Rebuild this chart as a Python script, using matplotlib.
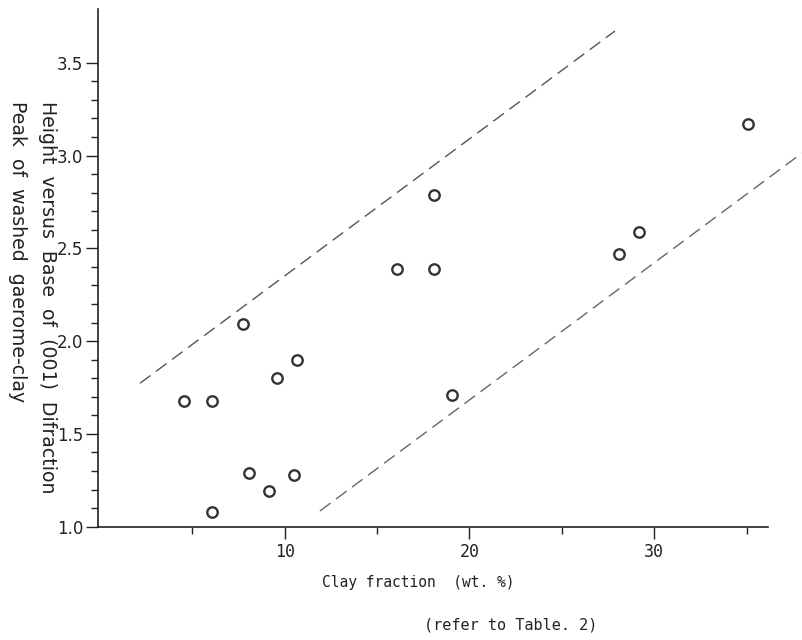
import matplotlib
matplotlib.use("Agg")
import matplotlib.pyplot as plt
import numpy as np

# ---- data ----
clay_fraction = [4.55, 6.07, 7.73, 8.07, 9.15, 9.60, 10.65, 10.50, 6.08,
                 16.09, 18.08, 18.08, 19.04, 28.11, 29.19, 35.09]
peak_ratio = [1.68, 1.68, 2.09, 1.29, 1.19, 1.80, 1.90, 1.28, 1.08,
              2.39, 2.39, 2.79, 1.71, 2.47, 2.59, 3.17]

upper_bound_x = [2.17, 27.87]
upper_bound_y = [1.773, 3.671]
lower_bound_x = [11.91, 37.99]
lower_bound_y = [1.085, 3.013]

x_major_ticks = [10, 20, 30]
x_minor_ticks = [5, 15, 25, 35]
y_major_ticks = [1.0, 1.5, 2.0, 2.5, 3.0, 3.5]
y_tick_labels = ["1.0", "1.5", "2.0", "2.5", "3.0", "3.5"]

x_label = "Clay fraction  (wt. %)"
note = "(refer to Table. 2)"
y_label_1 = "Height  versus  Base  of  (001)  Difraction"
y_label_2 = "Peak  of  washed  gaerome-clay"

narrow = ["Liberation Sans Narrow", "DejaVu Sans"]
ink = "#222222"

fig = plt.figure(figsize=(8.02, 6.40), dpi=100)
ax = fig.add_axes([0.1222, 0.177, 0.835, 0.8084])

ax.plot(upper_bound_x, upper_bound_y, color="#555555", lw=1.0,
        linestyle=(0, (9.4, 5)), clip_on=False)
ax.plot(lower_bound_x, lower_bound_y, color="#666666", lw=1.0,
        linestyle=(0, (9.4, 5)), clip_on=False)
ax.plot(clay_fraction, peak_ratio, linestyle="none", marker="o",
        mfc="none", mec="#333333", ms=7.5, mew=1.7)

ax.set_xlim(-0.10, 36.14)
ax.set_ylim(1.0, 3.788)

for s in ["top", "right"]:
    ax.spines[s].set_visible(False)
for s in ["left", "bottom"]:
    ax.spines[s].set_linewidth(1.2)
    ax.spines[s].set_color(ink)

ax.set_xticks(x_major_ticks)
ax.set_xticks(x_minor_ticks, minor=True)
ax.set_xticklabels([str(v) for v in x_major_ticks],
                   family=["DejaVu Sans Mono"], fontsize=12, color=ink)
ax.set_yticks(y_major_ticks)
ax.set_yticks(np.round(np.arange(1.1, 3.45, 0.1), 2), minor=True)
ax.set_yticklabels(y_tick_labels, family=narrow, fontsize=12, color=ink)

ax.tick_params(which="major", direction="out", length=8.5, width=1.0, color=ink)
ax.tick_params(which="minor", direction="out", length=5.0, width=1.0, color=ink)
ax.tick_params(axis="x", which="major", pad=3)
ax.tick_params(axis="y", which="major", pad=2)

fig.text(418 / 802, 1 - 583 / 640, x_label, family=["DejaVu Sans Mono"],
         fontsize=10.5, color=ink, ha="center", va="center")
fig.text(511 / 802, 1 - 625 / 640, note, family=["DejaVu Sans Mono"],
         fontsize=11, color=ink, ha="center", va="center")
fig.text(47 / 802, 1 - 101 / 640, y_label_1, family=narrow, fontsize=13.6,
         color=ink, rotation=270, ha="center", va="top")
fig.text(17 / 802, 1 - 101 / 640, y_label_2, family=narrow, fontsize=13.6,
         color=ink, rotation=270, ha="center", va="top")

fig.savefig("out.png", dpi=100)
